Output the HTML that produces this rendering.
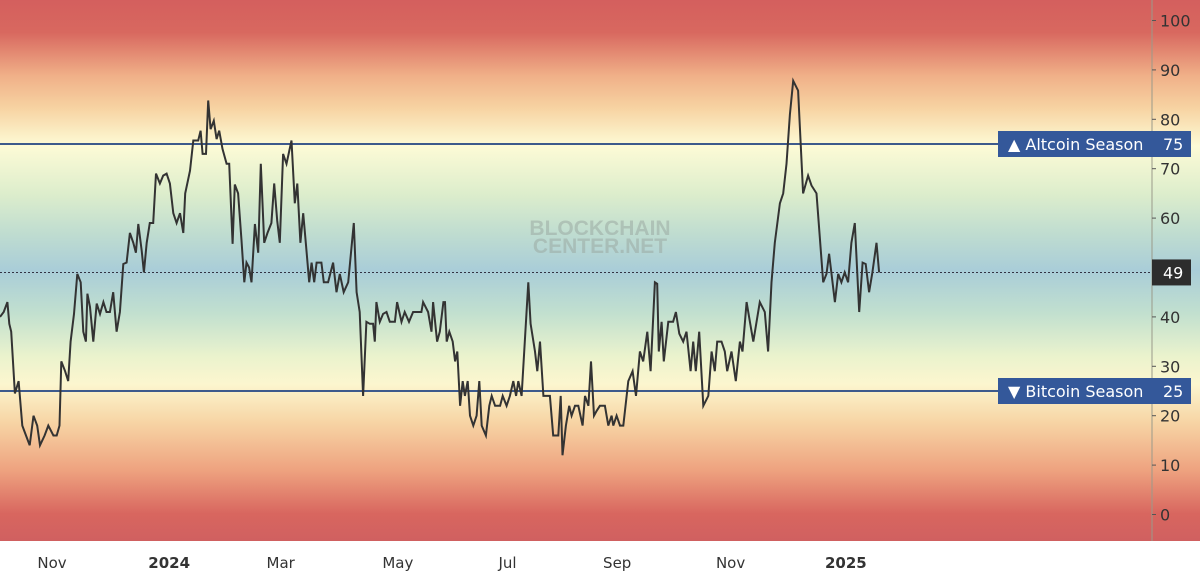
<!DOCTYPE html>
<html><head><meta charset="utf-8"><style>
html,body{margin:0;padding:0;background:#fff;width:1200px;height:585px;overflow:hidden;font-family:"DejaVu Sans","Liberation Sans",sans-serif}
</style></head><body>
<svg id="chart" width="1200" height="585" xmlns="http://www.w3.org/2000/svg">
<defs>
<linearGradient id="bg" x1="0" y1="0" x2="0" y2="541" gradientUnits="userSpaceOnUse">
<stop offset="0" stop-color="#d45f5e"/>
<stop offset="0.06" stop-color="#d8685f"/>
<stop offset="0.14" stop-color="#f0b088"/>
<stop offset="0.2" stop-color="#f7d3a2"/>
<stop offset="0.27" stop-color="#fdfbd6"/>
<stop offset="0.36" stop-color="#dcedcc"/>
<stop offset="0.43" stop-color="#c0ddd0"/>
<stop offset="0.5" stop-color="#a9cdd8"/>
<stop offset="0.58" stop-color="#c2e0cf"/>
<stop offset="0.66" stop-color="#ebf3cd"/>
<stop offset="0.71" stop-color="#fcf6cf"/>
<stop offset="0.78" stop-color="#f7d5a5"/>
<stop offset="0.87" stop-color="#eea27f"/>
<stop offset="0.95" stop-color="#d8665f"/>
<stop offset="1" stop-color="#d06060"/>
</linearGradient>
</defs>
<rect x="0" y="0" width="1200" height="541" fill="url(#bg)"/>
<rect x="0" y="541" width="1200" height="44" fill="#fff"/>
<line x1="1152" y1="0" x2="1152" y2="541" stroke="#9a9a8a" stroke-width="1"/>
<text x="600" y="235" text-anchor="middle" font-size="21" font-weight="bold" fill="#9aa9a2" fill-opacity="0.55" font-family="Liberation Sans,sans-serif">BLOCKCHAIN</text>
<text x="600" y="253" text-anchor="middle" font-size="21" font-weight="bold" fill="#9aa9a2" fill-opacity="0.55" font-family="Liberation Sans,sans-serif">CENTER.NET</text>
<g id="ticks"></g>
<g id="xlabels"></g>
<g id="lines"></g>
<g id="series"></g>
<g id="labels"></g>
</svg>
<script>
const days=[0,2,4,5,6,8,10,12,14,16,18,20,21.5,24,26,28.7,30.5,32,33,35,36.7,38,39.8,41.6,43.4,44.8,46.2,47,48.4,50.2,52,53.8,55.6,57.3,59.1,60.9,62.7,64.5,66.3,68.1,69.9,71.7,73.1,74.4,76.2,77.4,78.9,80.6,82.4,83.9,86,87.8,89.6,91.4,93.2,95,96.8,98.6,99.6,102.2,104,106.6,107.9,109,110.8,112,113.3,115,116.5,117.9,119.7,121.9,123.3,125.1,126.3,128.1,129.9,131.4,132.6,134,135.3,137.1,138.9,140.3,142.1,143.9,146,147.5,149.1,150.5,152.3,154.1,156.8,158.6,159.9,161.6,163.1,164.5,166.3,167.6,169,170.3,172.9,174.2,176.5,179.2,181,182.8,184.9,187.3,190.3,191.8,193.5,195.3,197.1,198.9,200.7,201.6,202.5,204.3,206.1,207.9,209.7,212.4,213.6,216,217.7,220,222.2,226.7,227.6,230.3,232.1,233,235.1,236.6,238.5,239.4,240.3,241.7,243.5,244.8,246,247.5,248.9,250.1,251.6,252.8,254.6,256.4,257.8,259.1,261.4,263.2,264.5,266.3,269,270.4,272.5,274.3,276.1,277.6,278.8,280.6,284.2,285.4,287.8,289,290.5,292.3,295.8,297.6,300.3,301.6,302.6,304.4,306.2,307.5,309.3,311.1,313.4,314.7,316.5,317.9,319.5,321,322.7,325.4,327.2,329,329.9,331.7,333.5,335.3,338,340.3,342.1,344.2,346,348.2,350,352.3,353.5,354.4,355.9,357.1,359.5,362.1,363.6,365.4,367.5,369.3,371.5,372.9,374.3,376.1,378.3,381,382.8,384.5,385.8,388.1,389.9,391.2,393.5,395.8,398,399.4,401.6,403.4,405.2,408.7,411.4,413.2,415,416.8,419.5,421.3,423.1,424.9,426.7,429.3,432,434.7,436.5,439.2,442.8,444.6,446,449.1,450.9,452.6,454.4,456.2,458,459.8,462.2,464,465.7,467.5,469.3,471.5,472.9];
const values=[40,41,43,38.6,37,24.5,27,18,16,14,20,18,14,16,18,16,16,18,31,29,27,35,40.6,48.7,47,37,35,44.7,42,35,42.7,40.6,43,41,41,45,37,41,50.7,51,57,55,53,58.8,53.4,49,55,59,59,69,67,68.6,69,67,61,59,61,57,65,69.6,75.7,75.7,77.7,73,73,83.8,78,79.7,76,77.7,74,71,71,54.8,66.8,65,55.5,47,51,50,47,58.8,53,71,55,57,59,67,59.5,55,73,71,75.7,63,67,55,61,55,47,51,47,51,51,47,47,51,45,48.7,45,47,59,45,41,24,39,38.6,38.6,35,43,39,40.6,41,39,39,43,39,41,39,41,41,43,41,37,43,35,37,43,43,35,37,35,31,33,22,27,24,27,20,18,20,27,18,16,22,24,22,22,24,22,24,27,24,27,24,47,38.6,33,29,35,24,24,16,16,24,12,18,22,20,22,22,18,24,22,31,20,21,22,22,18,20,18,20,18,18,27,29,24,33,31,37,29,47,46.7,33,39,31,39,39,41,36.6,35,37,29,35,29,37,22,24,33,29,35,35,33,29,33,27,35,33,43,39,35,43,41,33,47,55,63,65,71,81,87.8,85.8,65,68.6,66.6,65,47,48.7,52.8,43,48.7,47,49,47,55,59,41,51,50.7,45,49,55,49];
const yTicks=[0,10,20,30,40,50,60,70,80,90,100];
const xTickDays=[28,91,151,214,273,332,393,455];
const xTickLabels=["Nov","2024","Mar","May","Jul","Sep","Nov","2025"];
const xTickBold=[false,true,false,false,false,false,false,true];
const levels=[75,25];
const levelLabels=["▲ Altcoin Season","▼ Bitcoin Season"];
const current=49;

const NS="http://www.w3.org/2000/svg";
const X=d=>d*1.859;
const Y=v=>144+(75-v)*4.94;
function mk(tag,attrs,parent,text){const e=document.createElementNS(NS,tag);for(const k in attrs)e.setAttribute(k,attrs[k]);if(text!==undefined)e.textContent=text;parent.appendChild(e);return e;}
const gT=document.getElementById('ticks'),gX=document.getElementById('xlabels'),gL=document.getElementById('lines'),gS=document.getElementById('series'),gLab=document.getElementById('labels');
yTicks.forEach(v=>{
  if(v===50)return;
  const t=mk('text',{x:1160,y:Y(v)+6,'font-size':16,fill:'#333'},gT,String(v));
  
  
  const l=mk('line',{x1:1152,x2:1156,y1:Y(v),y2:Y(v),stroke:'#555'},gT);
  
  
});
xTickDays.forEach((d,i)=>{
  const t=mk('text',{x:X(d),y:568,'text-anchor':'middle','font-size':15,fill:'#333','font-weight':xTickBold[i]?'bold':'normal'},gX,xTickLabels[i]);
  
  
});
levels.forEach((v,i)=>{
  const l=mk('line',{x1:0,x2:1000,y1:Y(v),y2:Y(v),stroke:'#3d5a8c','stroke-width':2},gL);
  
  
});
const cl=mk('line',{x1:0,x2:1152,y1:Y(current),y2:Y(current),stroke:'#334','stroke-width':1,'stroke-dasharray':'2,2'},gL);


let dstr='';
values.forEach((v,i)=>{dstr+=(i?'L':'M')+X(days[i]).toFixed(1)+','+Y(v).toFixed(1);});
const p=mk('path',{d:dstr,fill:'none',stroke:'#333','stroke-width':2,'stroke-linejoin':'miter'},gS);


levels.forEach((v,i)=>{
  const r=mk('rect',{x:998,y:Y(v)-13,width:193,height:26,fill:'#34589a'},gLab);
  
  
  const t=mk('text',{x:1008,y:Y(v)+6,'font-size':16,fill:'#fff'},gLab,levelLabels[i]);
  
  
  const t2=mk('text',{x:1163,y:Y(v)+6,'font-size':16,fill:'#fff'},gLab,String(v));
  
  
});
const cr=mk('rect',{x:1152,y:Y(current)-13,width:39,height:26,fill:'#2d2d2d'},gLab);


const ct=mk('text',{x:1163,y:Y(current)+6,'font-size':16,fill:'#fff'},gLab,String(current));


</script>
</body></html>
